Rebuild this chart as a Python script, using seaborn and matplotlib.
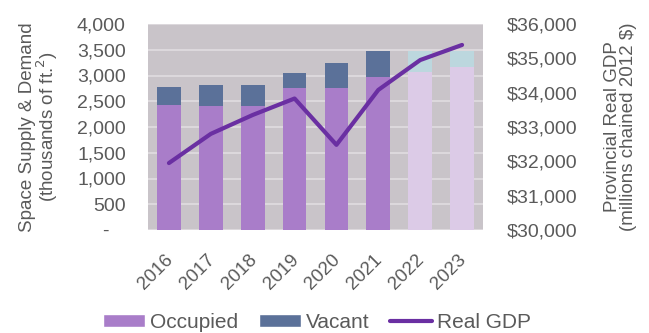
import matplotlib
matplotlib.use("Agg")
import matplotlib.pyplot as plt
import matplotlib.transforms as mtransforms
import seaborn as sns
import numpy as np
import pandas as pd
from matplotlib.patches import Patch
from matplotlib.lines import Line2D
from matplotlib.ticker import FuncFormatter

years = ["2016", "2017", "2018", "2019", "2020", "2021", "2022", "2023"]
occupied = [2420, 2410, 2410, 2750, 2750, 2965, 3075, 3170]
vacant = [365, 405, 405, 295, 485, 515, 405, 310]
gdp = [31950, 32800, 33350, 33830, 32480, 34080, 34950, 35390]
forecast = [False, False, False, False, False, False, True, True]

total = [o + v for o, v in zip(occupied, vacant)]
df = pd.DataFrame({"year": years, "occupied": occupied, "total": total, "gdp": gdp})

c_occ, c_vac = "#a97dc9", "#5b7199"
c_occ_f, c_vac_f = "#dccbe7", "#bcd7de"
c_line = "#6a2fa2"
txt = "#5a5a5a"

sns.set_theme(style="white")
plt.rcParams["font.family"] = ["Liberation Sans", "DejaVu Sans"]

fig = plt.figure(figsize=(6.49, 3.33), dpi=100)
ax = fig.add_axes([148 / 649, 1 - 230 / 333, 335 / 649, 206 / 333])
ax.set_facecolor("#c9c4c9")

vac_cols = [c_vac_f if f else c_vac for f in forecast]
occ_cols = [c_occ_f if f else c_occ for f in forecast]
sns.barplot(data=df, x="year", y="total", hue="year", palette=vac_cols, width=0.57,
            legend=False, ax=ax, saturation=1, zorder=2, linewidth=0)
sns.barplot(data=df, x="year", y="occupied", hue="year", palette=occ_cols, width=0.57,
            legend=False, ax=ax, saturation=1, zorder=3, linewidth=0)

ax.set_ylim(0, 4000)
ax.set_xlim(-0.5, 7.5)
ax.set_yticks(np.arange(0, 4001, 500))
ax.yaxis.set_major_formatter(FuncFormatter(lambda v, p: "-   " if v == 0 else f"{int(v):,}"))
ax.grid(axis="y", color="#e0dde0", linewidth=1.2, zorder=1)
ax.set_axisbelow(True)
for s in ax.spines.values():
    s.set_visible(False)
ax.set_xlabel("")
ax.set_ylabel("Space Supply & Demand\n(thousands of ft.$^2$)", fontsize=13.5, color=txt,
              linespacing=0.95)
ax.yaxis.set_label_coords(-0.262, 0.5)
ax.tick_params(axis="y", labelsize=14, colors=txt, length=0, pad=16)
ax.tick_params(axis="x", labelsize=13.5, colors=txt, length=0, pad=15)
offset = mtransforms.ScaledTranslation(-0.045, 0, fig.dpi_scale_trans)
for lab in ax.get_xticklabels():
    lab.set_rotation(45)
    lab.set_ha("right")
    lab.set_va("top")
    lab.set_rotation_mode("anchor")
    lab.set_transform(lab.get_transform() + offset)

ax2 = ax.twinx()
sns.lineplot(x=np.arange(len(years)), y=gdp, ax=ax2, color=c_line, linewidth=3, zorder=5)
ax2.set_ylim(30000, 36000)
ax2.set_yticks(np.arange(30000, 36001, 1000))
ax2.yaxis.set_major_formatter(FuncFormatter(lambda v, p: f"${int(v):,}"))
ax2.tick_params(axis="y", labelsize=14, colors=txt, length=0, pad=17)
for s in ax2.spines.values():
    s.set_visible(False)
ax2.set_ylabel("Provincial Real GDP\n(millions chained 2012 $)", fontsize=13.5, color=txt,
               linespacing=0.95)
ax2.yaxis.set_label_coords(1.36, 0.5)

handles = [Patch(facecolor=c_occ, label="Occupied"),
           Patch(facecolor=c_vac, label="Vacant"),
           Line2D([0], [0], color=c_line, lw=3, label="Real GDP")]
leg = fig.legend(handles=handles, loc="center left", bbox_to_anchor=(103 / 649, 1 - 322 / 333),
                 ncol=3, frameon=False, fontsize=15, handlelength=2.0, handleheight=0.6,
                 handletextpad=0.25, columnspacing=1.0, borderpad=0, borderaxespad=0)
for t in leg.get_texts():
    t.set_color(txt)

fig.savefig("out.png", dpi=100)
